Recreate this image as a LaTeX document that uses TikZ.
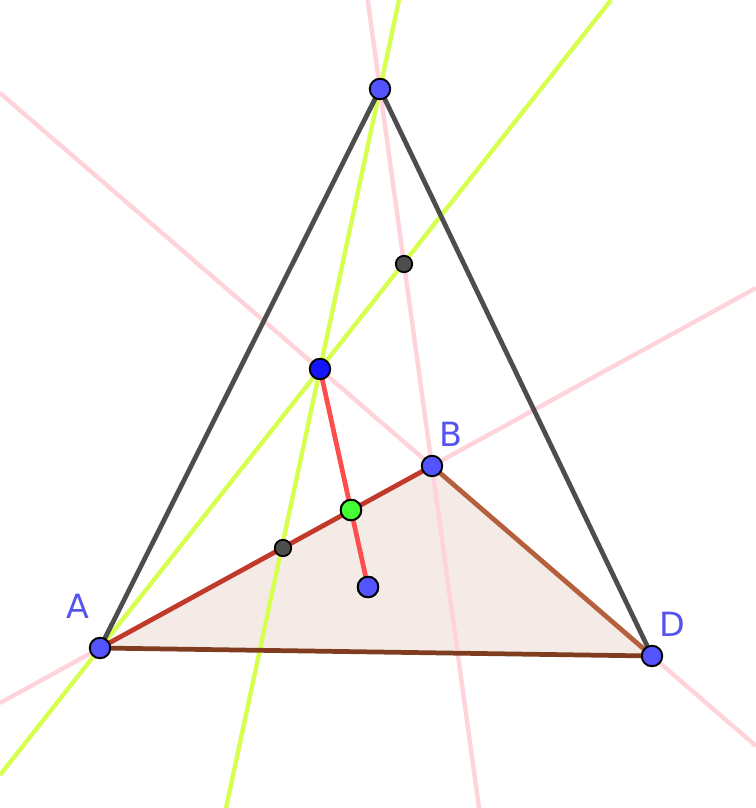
\documentclass[tikz,border=0pt]{standalone}
\usepackage{fontspec}
\setsansfont{DejaVu Sans}
\definecolor{ptblue}{HTML}{5454FF}
\definecolor{ptdark}{HTML}{1414FF}
\definecolor{ptgreen}{HTML}{44FF33}
\definecolor{ptgray}{HTML}{4D4D4D}
\definecolor{pinkline}{HTML}{FFD3DA}
\definecolor{limeline}{HTML}{D6FF4F}
\definecolor{redseg}{HTML}{FF4D4D}
\definecolor{edgeab}{HTML}{C0392B}
\definecolor{edgebd}{HTML}{B5603D}
\definecolor{edgead}{HTML}{803C1E}
\definecolor{triface}{HTML}{F4EBE7}
\definecolor{lblblue}{HTML}{5555EE}
\tikzset{
  pt/.style={circle, draw=black, line width=1.1pt, inner sep=0pt, minimum size=0.41cm},
  smallpt/.style={circle, draw=black, line width=1pt, fill=ptgray, inner sep=0pt, minimum size=0.33cm},
  lbl/.style={text=lblblue, font=\sffamily\fontsize{19}{22}\selectfont}
}
\begin{document}
\begin{tikzpicture}[x=0.02cm,y=-0.02cm]
\useasboundingbox (0,0) rectangle (756,808);
\clip (0,0) rectangle (756,808);
\coordinate (tA) at (100,648);
\coordinate (tB) at (432,466);
\coordinate (tD) at (652,656);
\coordinate (tT) at (380,89);
\coordinate (tO) at (320,369);
% line ends at the frame
\coordinate (p1a) at (0,703);
\coordinate (p1b) at (756,288);
\coordinate (p2a) at (0,93);
\coordinate (p2b) at (756,746);
\coordinate (p3a) at (367.7,0);
\coordinate (p3b) at (479,808);
\coordinate (y1a) at (399,0);
\coordinate (y1b) at (226,808);
\coordinate (y2a) at (611,0);
\coordinate (y2b) at (0,775);
\fill[triface] (tA) -- (tB) -- (tD) -- cycle;
\draw[pinkline, line width=2.5pt](p1a) -- (p1b);
\draw[pinkline, line width=2.5pt](p2a) -- (p2b);
\draw[pinkline, line width=2.5pt](p3a) -- (p3b);
\draw[limeline, line width=2.5pt](y1a) -- (y1b);
\draw[limeline, line width=2.5pt](y2a) -- (y2b);
\draw[ptgray, line width=2.7pt](tT) -- (tA);
\draw[ptgray, line width=2.7pt](tT) -- (tD);
\draw[edgeab, line width=2.7pt](tA) -- (tB);
\draw[edgebd, line width=2.7pt](tB) -- (tD);
\draw[edgead, line width=2.7pt](tA) -- (tD);
\node[pt, fill=ptgreen] (ptM) at (351,510){};
\node[pt, fill=ptblue] (ptF) at (368,587){};
\draw[redseg, line width=2.7pt](tO) -- (ptM);
\draw[redseg, line width=2.7pt](ptM) -- (ptF);
\node[pt, fill=ptgreen] at (ptM){};
\node[pt, fill=ptblue] at (ptF){};
\node[smallpt] (ptK) at (404,264){};
\node[smallpt] (ptL) at (283,548){};
\node[pt, fill=ptdark] (ptO) at (tO){};
\node[pt, fill=ptblue] (ptT) at (tT){};
\node[pt, fill=ptblue] (ptA) at (tA){};
\node[pt, fill=ptblue] (ptB) at (tB){};
\node[pt, fill=ptblue] (ptD) at (tD){};
\node[lbl] (lA) at (78,606){A};
\node[lbl] (lB) at (451,434){B};
\node[lbl] (lD) at (672,624){D};
\end{tikzpicture}
\end{document}
